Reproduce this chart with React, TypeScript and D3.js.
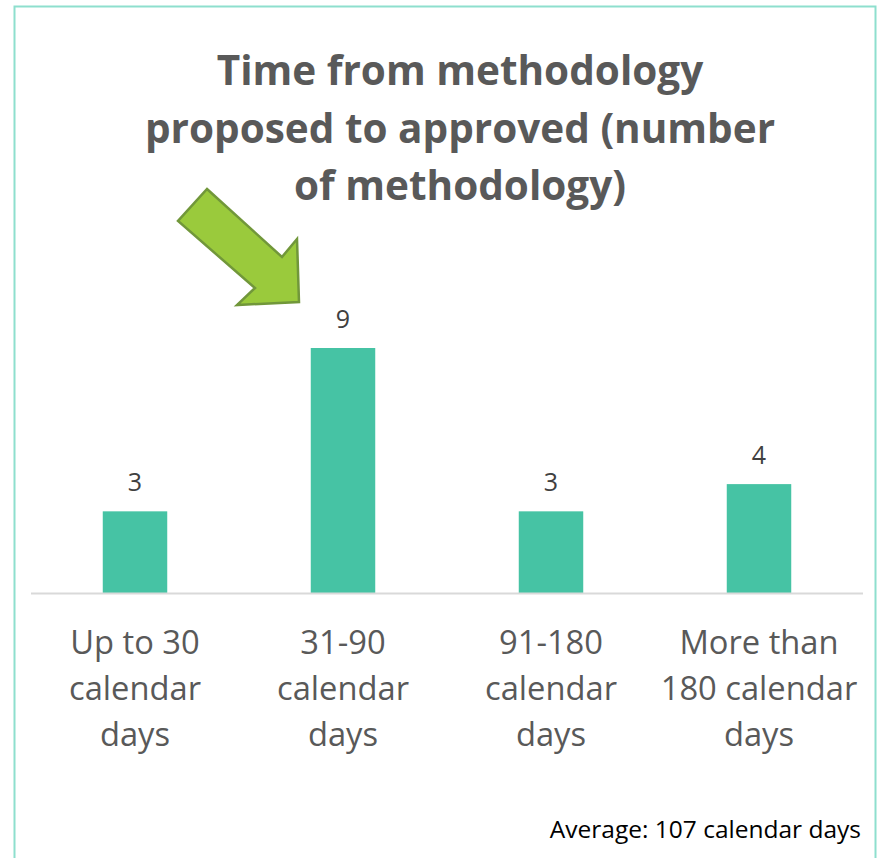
import React from "react";
import * as d3 from "d3";

const categories = [
  ["Up to 30", "calendar", "days"],
  ["31-90", "calendar", "days"],
  ["91-180", "calendar", "days"],
  ["More than", "180 calendar", "days"],
];
const values = [3, 9, 3, 4];
const titleLines = ["Time from methodology", "proposed to approved (number", "of methodology)"];
const footnote = "Average: 107 calendar days";

const W = 880;
const H = 858;

export default function App() {
  const x = d3
    .scaleBand<number>()
    .domain(values.map((_, i) => i))
    .range([31, 863])
    .paddingInner(0.69)
    .paddingOuter(0.345);
  const y = d3.scaleLinear().domain([0, 9]).range([593, 348]);

  const arrowPts: [number, number][] = [
    [207, 189],
    [282, 257],
    [297, 239],
    [299, 302],
    [237, 305],
    [255, 288],
    [178, 221],
  ];
  const line = d3.line();

  return (
    <svg
      width={W}
      height={H}
      style={{ position: "absolute", left: 0, top: 0, background: "#fff" }}
    >
      <rect x={14.5} y={6.5} width={861} height={870} fill="#fff" stroke="#8EDFCE" strokeWidth={2} />
      <g fontFamily="'Open Sans', sans-serif" fontWeight={700} fontSize={40.5} fill="#595959" textAnchor="middle">
        {titleLines.map((t, i) => (
          <text key={i} x={460} y={85 + i * 57.5}>
            {t}
          </text>
        ))}
      </g>
      <path d={line(arrowPts) + "Z"} fill="#9ACA3C" stroke="#71973A" strokeWidth={2.5} strokeLinejoin="miter" />
      {values.map((v, i) => (
        <g key={i}>
          <rect x={x(i)} y={y(v)} width={x.bandwidth()} height={y(0) - y(v)} fill="#46C3A4" />
          <text
            x={x(i)! + x.bandwidth() / 2}
            y={y(v) - 20}
            textAnchor="middle"
            fontFamily="'Open Sans', sans-serif"
            fontSize={25}
            fill="#404040"
          >
            {v}
          </text>
        </g>
      ))}
      <line x1={31} x2={863} y1={593.5} y2={593.5} stroke="#D9D9D9" strokeWidth={2} />
      {categories.map((lines, i) => (
        <text
          key={i}
          textAnchor="middle"
          fontFamily="'Open Sans', sans-serif"
          fontSize={32.7}
          fill="#595959"
        >
          {lines.map((l, j) => (
            <tspan key={j} x={x(i)! + x.bandwidth() / 2} y={654 + j * 46}>
              {l}
            </tspan>
          ))}
        </text>
      ))}
      <text
        x={861}
        y={838}
        textAnchor="end"
        fontFamily="'Open Sans', sans-serif"
        fontSize={24.5}
        fill="#000"
      >
        {footnote}
      </text>
    </svg>
  );
}
